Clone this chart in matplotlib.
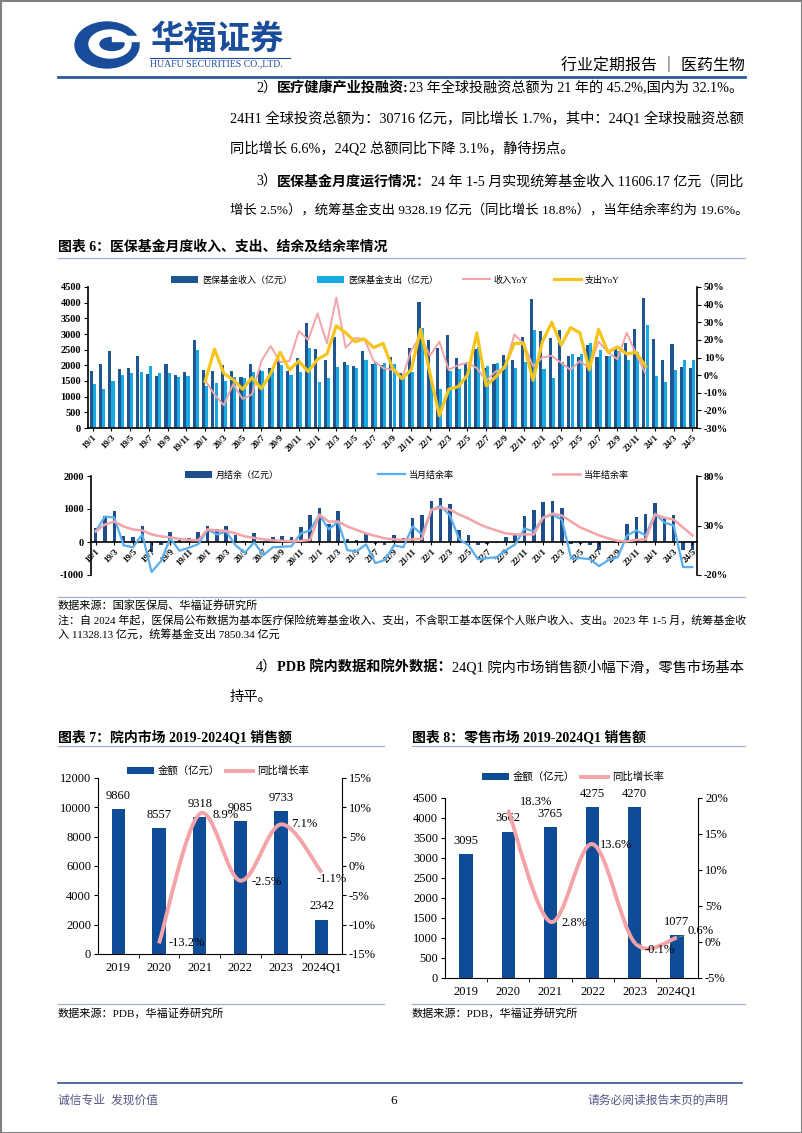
import matplotlib
matplotlib.use("Agg")
import matplotlib.pyplot as plt
from matplotlib.patches import Ellipse, Rectangle, PathPatch
from matplotlib.path import Path
from matplotlib.lines import Line2D

W, H = 802, 1133

plt.rcParams["font.family"] = ["Liberation Serif", "Noto Sans CJK SC"]
plt.rcParams["axes.unicode_minus"] = False

# ---- chart 6: monthly fund data, 19/1 .. 24/5 ----
months = [f"{y}/{m}" for y in range(19, 25) for m in range(1, 13)][:65]

income = [1830, 2050, 2450, 1870, 1900, 2290, 1710, 1650, 2050, 1680, 1780, 2810,
          1860, 1820, 2010, 1830, 1640, 2050, 1840, 1930, 2180, 1830, 2230, 3350,
          2510, 2160, 2900, 2110, 1980, 2450, 2050, 2000, 2260, 1770, 2540, 4030,
          2800, 2560, 2960, 2230, 2070, 2530, 1900, 2030, 2340, 2180, 2900, 4120,
          3080, 2860, 3130, 2290, 2280, 2640, 2260, 2310, 2540, 2720, 3170, 4140,
          2850, 2180, 2670, 1950, 1930]
expense = [1400, 1250, 1500, 1680, 1740, 1800, 1990, 1750, 1740, 1620, 1650, 2500,
           1350, 1430, 1500, 1620, 1600, 1780, 1830, 1830, 2000, 1680, 1780, 2540,
           1480, 1610, 1940, 2000, 1900, 2160, 2100, 2080, 2050, 1620, 1800, 3190,
           1550, 1230, 1820, 1870, 1950, 2570, 1990, 2080, 2160, 1930, 2100, 3130,
           1870, 1590, 2100, 2360, 2360, 2720, 2490, 2310, 2470, 2160, 2420, 3290,
           1650, 1460, 1860, 2180, 2160]
# YoY series run from 20/1 to 23/12
yoy_start = 12
inc_yoy = [-3, -11, -17, -5, -13.5, -11, 8, 16.5, 7.4, 8, 25, 20,
           35, 18, 44, 15.5, 21, 20.5, 8, 4, 3, -2, 14, 22,
           11, 19, 3, 5.6, 7, 4, -3, 2, 4, 23, 18, 5,
           10, 11, 7, 3, 8, 4, 19, 13, 9, 24, 12, 1]
exp_yoy = [-3.5, 14.7, 1, -2.6, -8, -1.4, -7.7, 1, 13, 3, 8, 2,
           9, 12, 28, 24, 19, 20.5, 15.6, 18, 4, -2, 3, 26,
           1, -23, -8, -6.6, 0, 24, -6, -1, 5, 18, 18, -3,
           19, 30, 17, 27, 24, 3, 26, 13, 16, 12, 13, 5]

surplus = [430, 800, 950, 190, 150, 470, -290, -90, 300, 60, 120, 310,
           500, 390, 490, 210, 40, 260, 10, 150, 180, 150, 450, 810,
           1030, 560, 930, 100, 70, 270, -60, -80, 200, 130, 730, 830,
           1250, 1330, 1140, 360, 200, -100, -60, -40, 150, 250, 780, 980,
           1220, 1250, 1030, -60, -60, -80, -230, 0, 70, 560, 770, 840,
           1190, 720, 810, -230, -230]
month_rate = [24, 39, 38, 10, 8, 21, -17, -6, 17, 4.5, 7.6, 11,
              26, 21, 24, 10, 2.5, 13, 0, 8, 8.5, 9, 22, 25,
              41, 26, 34, 5, 4, 11, -8, -5, 10, 8, 29, 21,
              45, 50, 40, 16, 10, -4, -3, -2, 5, 11, 27, 24,
              38, 41, 36, -3, -3, -4, -11, -5, -2, 20, 25, 20,
              42, 33, 30, -12, -12]
year_rate = [24, 31, 34, 29, 26, 25, 21, 19, 18, 16.5, 15.5, 15,
             26, 25, 24.5, 22, 19, 17.5, 16, 15, 14.5, 14, 14.5, 15.5,
             41, 34, 34, 29, 25.5, 22, 19.5, 17, 16, 15.5, 16, 16.5,
             46, 48, 46, 41, 37, 32, 28, 25, 22, 21, 21, 21,
             38, 42, 40, 34, 28, 24, 20, 17, 14.5, 14, 15.5, 16,
             41, 38, 36, 28, 20]

# ---- charts 7 and 8 ----
years = ["2019", "2020", "2021", "2022", "2023", "2024Q1"]
hosp_sales = [9860, 8557, 9318, 9085, 9733, 2342]
hosp_growth = [-13.2, 8.9, -2.5, 7.1, -1.1]      # from 2020
retail_sales = [3095, 3662, 3765, 4275, 4270, 1077]
retail_growth = [18.3, 2.8, 13.6, -0.1, 0.6]     # from 2020

C_INC = "#1f5591"
C_EXP = "#18a8e2"
C_PINK = "#f4a3a8"
C_YEL = "#f5c51e"
C_SUR = "#1f4e8c"
C_MBLUE = "#58aef0"
C_BAR = "#0f4c97"
C_GRID = "#9bb3dc"


def box(x0, y0, x1, y1):
    return [x0 / W, 1 - y1 / H, (x1 - x0) / W, (y1 - y0) / H]


def smooth(xs, ys, t=1 / 6):
    verts = [(xs[0], ys[0])]
    codes = [Path.MOVETO]
    n = len(xs)
    for i in range(n - 1):
        x0, y0 = (xs[i - 1], ys[i - 1]) if i > 0 else (xs[i], ys[i])
        x1, y1 = xs[i], ys[i]
        x2, y2 = xs[i + 1], ys[i + 1]
        x3, y3 = (xs[i + 2], ys[i + 2]) if i + 2 < n else (x2, y2)
        verts += [(x1 + (x2 - x0) * t, y1 + (y2 - y0) * t),
                  (x2 - (x3 - x1) * t, y2 - (y3 - y1) * t), (x2, y2)]
        codes += [Path.CURVE4] * 3
    return Path(verts, codes)


fig = plt.figure(figsize=(W / 100, H / 100), dpi=100)
page = fig.add_axes([0, 0, 1, 1])
page.set_xlim(0, W)
page.set_ylim(H, 0)
page.axis("off")
renderer = fig.canvas.get_renderer()


def hline(y, x0, x1, color, lw):
    page.add_line(Line2D([x0, x1], [y, y], color=color, lw=lw))


def rich(x, y, parts, size, right=None):
    texts = []
    for txt, weight in parts:
        kw = dict(fontsize=size, fontweight=weight, va="center", ha="left")
        if not texts:
            texts.append(page.text(x, y, txt, **kw))
        else:
            texts.append(page.annotate(txt, xy=(1, 0.5), xycoords=texts[-1], **kw))
    if right is not None:
        # stretch / shrink the line so it ends where the justified line ends
        x1 = texts[-1].get_window_extent(renderer).x1
        scale = min(max((right - x) / (x1 - x), 0.9), 1.05)
        for t in texts:
            t.set_fontsize(size * scale)


# ---- page header ----
page.add_patch(Rectangle((0.5, 0.5), W - 1, H - 1, fill=False, ec="#808080", lw=1.5))
page.add_patch(Ellipse((107, 45), 64, 46, color="#1a4c9c"))
page.add_patch(Ellipse((110, 44), 42, 28, color="white"))
page.add_patch(Ellipse((112, 44), 24, 13, color="#1a4c9c"))
page.add_patch(Rectangle((112, 36), 26, 5, color="white"))
page.text(150, 40, "华福证券", fontsize=24, fontweight="bold", color="#1a4c9c",
          va="center", ha="left")
hline(58, 150, 290, "#1a4c9c", 0.8)
page.text(150, 64, "HUAFU SECURITIES CO.,LTD.", fontsize=7, color="#1a4c9c",
          va="center", ha="left")
page.text(745, 65, "行业定期报告 ｜ 医药生物", fontsize=11.5, va="center", ha="right")
hline(77, 58, 745, "#2b5aa0", 2)

body = 10.3
rich(256, 88, [("2）", "normal"), ("医疗健康产业投融资:", "bold"),
               ("23 年全球投融资总额为 21 年的 45.2%,国内为 32.1%。", "normal")], body, 742)
rich(230, 118, [("24H1 全球投资总额为：30716 亿元，同比增长 1.7%，其中：24Q1 全球投融资总额",
                 "normal")], body, 742)
rich(230, 148, [("同比增长 6.6%，24Q2 总额同比下降 3.1%，静待拐点。", "normal")], body)
rich(256, 182, [("3）", "normal"), ("医保基金月度运行情况：", "bold"),
                ("24 年 1-5 月实现统筹基金收入 11606.17 亿元（同比", "normal")], body, 742)
rich(230, 211, [("增长 2.5%），统筹基金支出 9328.19 亿元（同比增长 18.8%），当年结余率约为 19.6%。",
                 "normal")], body, 745)

page.text(58, 247, "图表 6：医保基金月度收入、支出、结余及结余率情况", fontsize=10,
          fontweight="bold", va="center")
hline(258, 58, 745, C_GRID, 0.9)

# ---- chart 6 top: income / expense ----
x = list(range(len(months)))
ax1 = fig.add_axes(box(88, 287, 697, 428))
b1 = ax1.bar([i - 0.17 for i in x], income, width=0.33, color=C_INC, label="医保基金收入（亿元）")
b2 = ax1.bar([i + 0.17 for i in x], expense, width=0.33, color=C_EXP, label="医保基金支出（亿元）")
ax1.set_xlim(-0.5, len(months) - 0.5)
ax1.set_ylim(0, 4500)
ax1.set_yticks(range(0, 4501, 500), [str(v) for v in range(0, 4501, 500)],
               fontsize=7.5, fontweight="bold")
ax1.set_xticks(x[::2], months[::2], rotation=45, ha="right", va="top",
               rotation_mode="anchor", fontsize=6.5, fontweight="bold")
ax1.tick_params(axis="x", length=2, pad=2)
ax1.tick_params(axis="y", length=3, pad=2)
ax1.spines["top"].set_visible(False)
ax1.spines["right"].set_visible(False)
for s in ("left", "bottom"):
    ax1.spines[s].set_linewidth(1.2)

ax1r = ax1.twinx()
yx = list(range(yoy_start, yoy_start + len(inc_yoy)))
l1, = ax1r.plot(yx, inc_yoy, color=C_PINK, lw=1.4, label="收入YoY")
l2, = ax1r.plot(yx, exp_yoy, color=C_YEL, lw=2.3, label="支出YoY")
ax1r.set_ylim(-30, 50)
ax1r.set_yticks(range(-30, 51, 10), [f"{v}%" for v in range(-30, 51, 10)],
                fontsize=7.5, fontweight="bold")
ax1r.tick_params(axis="y", length=3, pad=2)
for s in ("top", "left", "bottom"):
    ax1r.spines[s].set_visible(False)
ax1r.spines["right"].set_linewidth(1.2)

fig.legend([b1, b2, l1, l2], [h.get_label() for h in (b1, b2, l1, l2)], loc="center",
           bbox_to_anchor=(395 / W, 1 - 280 / H), ncol=4, frameon=False, fontsize=6.5,
           handlelength=3, handleheight=0.7, columnspacing=2.8, handletextpad=0.4)

# ---- chart 6 bottom: surplus ----
ax2 = fig.add_axes(box(91, 476, 697, 575))
ax2.spines["bottom"].set_position(("data", 0))
b3 = ax2.bar(x, surplus, width=0.38, color=C_SUR, label="月结余（亿元）")
ax2.set_xlim(-0.5, len(months) - 0.5)
ax2.set_ylim(-1000, 2000)
ax2.set_yticks([-1000, 0, 1000, 2000], ["-1000", "0", "1000", "2000"],
               fontsize=7.5, fontweight="bold")
ax2.set_xticks(x[::2], months[::2], rotation=45, ha="right", va="top",
               rotation_mode="anchor", fontsize=6.5, fontweight="bold")
ax2.tick_params(axis="x", length=2, pad=2)
ax2.tick_params(axis="y", length=3, pad=2)
ax2.spines["top"].set_visible(False)
ax2.spines["right"].set_visible(False)
for s in ("left", "bottom"):
    ax2.spines[s].set_linewidth(1.2)

ax2r = ax2.twinx()
l3, = ax2r.plot(x, month_rate, color=C_MBLUE, lw=1.6, label="当月结余率")
l4, = ax2r.plot(x, year_rate, color=C_PINK, lw=1.8, label="当年结余率")
ax2r.set_ylim(-20, 80)
ax2r.set_yticks([-20, 30, 80], ["-20%", "30%", "80%"], fontsize=7.5, fontweight="bold")
ax2r.tick_params(axis="y", length=3, pad=2)
for s in ("top", "left", "bottom"):
    ax2r.spines[s].set_visible(False)
ax2r.spines["right"].set_linewidth(1.2)

fig.legend([b3, l3, l4], [h.get_label() for h in (b3, l3, l4)], loc="center",
           bbox_to_anchor=(407 / W, 1 - 475 / H), ncol=3, frameon=False, fontsize=6.5,
           handlelength=3, handleheight=0.7, columnspacing=11, handletextpad=0.4)

hline(597, 58, 745, C_GRID, 0.9)
page.text(58, 605, "数据来源：国家医保局、华福证券研究所", fontsize=8, va="center")
rich(58, 620, [("注：自 2024 年起，医保局公布数据为基本医疗保险统筹基金收入、支出，不含职工基本医保个人账户收入、支出。2023 年 1-5 月，统筹基金收",
                "normal")], 8, 745)
page.text(58, 634, "入 11328.13 亿元，统筹基金支出 7850.34 亿元", fontsize=8, va="center")

rich(256, 667, [("4）", "normal"), ("PDB 院内数据和院外数据：", "bold"),
                ("24Q1 院内市场销售额小幅下滑，零售市场基本", "normal")], body, 742)
rich(230, 697, [("持平。", "normal")], body)


# ---- charts 7 / 8 ----
def sales_chart(rect, sales, growth, ymax, ystep, gmin, gmax, gstep, leg_xy,
                line_offsets, leader):
    ax = fig.add_axes(box(*rect))
    xs = list(range(len(years)))
    bars = ax.bar(xs, sales, width=0.32, color=C_BAR, label="金额（亿元）")
    ax.set_xlim(-0.5, len(years) - 0.5)
    ax.set_ylim(0, ymax)
    ax.set_yticks(range(0, ymax + 1, ystep), [str(v) for v in range(0, ymax + 1, ystep)],
                  fontsize=9)
    ax.set_xticks(xs, years, fontsize=9)
    ax.set_xticks([i + 0.5 for i in xs[:-1]], minor=True)
    ax.tick_params(axis="x", which="major", length=0, pad=6)
    ax.tick_params(axis="x", which="minor", length=3)
    ax.tick_params(axis="y", length=3, pad=2)
    ax.spines["top"].set_visible(False)
    ax.spines["right"].set_visible(False)
    for i, v in enumerate(sales):
        ax.annotate(str(v), xy=(i, v), xytext=(0, 9.5), textcoords="offset points",
                    ha="center", va="center", fontsize=9)

    axr = ax.twinx()
    gx = xs[1:]
    axr.add_patch(PathPatch(smooth(gx, growth), fc="none", ec=C_PINK, lw=2.8))
    axr.set_ylim(gmin, gmax)
    axr.set_yticks(range(gmin, gmax + 1, gstep), [f"{v}%" for v in range(gmin, gmax + 1, gstep)],
                   fontsize=9)
    axr.tick_params(axis="y", length=3, pad=2)
    for s in ("top", "left", "bottom"):
        axr.spines[s].set_visible(False)
    for i, (g, off) in enumerate(zip(growth, line_offsets)):
        kw = dict(xy=(gx[i], g), xytext=off, textcoords="offset points",
                  ha="center", va="center", fontsize=9)
        if leader[i]:
            kw["arrowprops"] = dict(arrowstyle="-", color="#8c8c8c", lw=0.6,
                                    shrinkA=6, shrinkB=1)
        axr.annotate(f"{g}%", **kw)
    handle = Line2D([], [], color=C_PINK, lw=2.8)
    fig.legend([bars, handle], ["金额（亿元）", "同比增长率"], loc="center",
               bbox_to_anchor=(leg_xy[0] / W, 1 - leg_xy[1] / H), ncol=2, frameon=False,
               fontsize=7.5, handlelength=2.6, handleheight=0.6, columnspacing=0.6,
               handletextpad=0.4)


page.text(58, 737, "图表 7：院内市场 2019-2024Q1 销售额", fontsize=10, fontweight="bold",
          va="center")
hline(746, 58, 384, C_GRID, 0.9)
page.text(412, 737, "图表 8：零售市场 2019-2024Q1 销售额", fontsize=10, fontweight="bold",
          va="center")
hline(746, 412, 745, C_GRID, 0.9)

sales_chart((98, 778, 342, 954), hosp_sales, hosp_growth, 12000, 2000, -15, 15, 5,
            (218, 771), [(20, 0), (19, -1), (19, -1), (17, 0), (7, -5)],
            [False] * 5)
sales_chart((445, 798, 698, 978), retail_sales, retail_growth, 4500, 500, -5, 20, 5,
            (573, 777), [(20, 6), (17, -1), (17, -1), (18, -5), (17, 5)],
            [True, False, False, True, True])

hline(1004, 58, 384, C_GRID, 0.9)
hline(1004, 412, 745, C_GRID, 0.9)
page.text(58, 1013, "数据来源：PDB，华福证券研究所", fontsize=8, va="center")
page.text(412, 1013, "数据来源：PDB，华福证券研究所", fontsize=8, va="center")

# ---- footer ----
hline(1083, 58, 742, "#2e5597", 1.2)
page.text(58, 1101, "诚信专业  发现价值", fontsize=8.5, color="#56568a", va="center")
page.text(394, 1101, "6", fontsize=9.5, va="center", ha="center")
page.text(728, 1101, "请务必阅读报告末页的声明", fontsize=8.5, color="#56568a",
          va="center", ha="right")

fig.savefig("out.png", dpi=100)
